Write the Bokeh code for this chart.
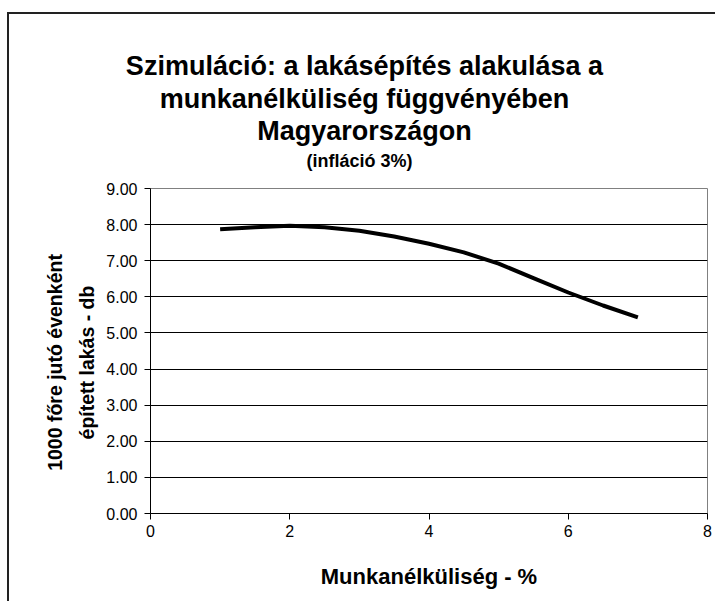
from bokeh.plotting import figure
from bokeh.models import FixedTicker, NumeralTickFormatter, Title, Range1d
from bokeh.embed import file_html
from bokeh.resources import INLINE

# data
unemployment = [1, 1.5, 2, 2.5, 3, 3.5, 4, 4.5, 5, 5.5, 6, 6.5, 7]
housing = [7.87, 7.93, 7.97, 7.93, 7.83, 7.67, 7.47, 7.23, 6.92, 6.52, 6.12, 5.76, 5.43]
x_ticks = [0, 2, 4, 6, 8]
y_ticks = [0, 1, 2, 3, 4, 5, 6, 7, 8, 9]
title_lines = ["Szimuláció: a lakásépítés alakulása a",
               "munkanélküliség függvényében",
               "Magyarországon"]
subtitle = "(infláció 3%)"
x_label = "Munkanélküliség - %"
y_label_lines = ["1000 főre jutó évenként", "épített lakás - db"]

FONT = "Liberation Sans"
ML, MR, MT, MB = 141, 8, 174, 88
FW, FH = 557, 325
FRAME_LEFT, FRAME_BOTTOM = 150, 513

# Arial/Liberation Sans Bold advance widths (per 1000 em) for centring text
W = {'S': 667, 'z': 500, 'i': 278, 'm': 889, 'u': 611, 'l': 278, 'á': 556, 'c': 556,
     'ó': 611, ':': 333, ' ': 278, 'a': 556, 'k': 556, 's': 556, 'é': 556, 'p': 611,
     'í': 278, 't': 333, 'e': 556, 'n': 611, 'ü': 611, 'g': 611, 'f': 333, 'v': 556,
     'y': 556, 'b': 611, 'M': 833, 'r': 389, 'o': 611, '(': 333, ')': 333, '3': 556,
     '%': 889, '1': 556, '0': 556, 'ő': 611, 'j': 278, '-': 333, 'd': 611}


def text_width(s, size):
    return sum(W.get(ch, 556) for ch in s) / 1000 * size


p = figure(frame_width=FW, frame_height=FH, min_border_left=ML, min_border_right=MR,
           min_border_top=MT, min_border_bottom=MB,
           x_range=Range1d(0, 8), y_range=Range1d(0, 9),
           output_backend="svg", toolbar_location=None)
p.styles = {"border-top": "2px solid #222222", "border-left": "2px solid #222222",
            "margin-top": "12px", "margin-left": "7px"}

p.line(unemployment, housing, line_width=4, line_color="black")

p.xgrid.visible = False
p.ygrid.grid_line_color = "black"
p.ygrid.grid_line_width = 1
p.outline_line_color = "#808080"
p.outline_line_width = 1

for ax in (p.xaxis[0], p.yaxis[0]):
    ax.axis_line_color = "black"
    ax.major_tick_line_color = "black"
    ax.minor_tick_line_color = None
    ax.major_tick_out = 6
    ax.major_tick_in = 0
    ax.major_label_text_font = FONT
    ax.major_label_text_font_size = "16px"
    ax.major_label_text_color = "black"
    ax.axis_label_text_font = FONT
    ax.axis_label_text_font_style = "bold"
    ax.axis_label_text_color = "black"

p.xaxis.axis_label_text_font_size = "22px"
p.xaxis.ticker = FixedTicker(ticks=x_ticks)
p.yaxis.ticker = FixedTicker(ticks=y_ticks)
p.yaxis.formatter = NumeralTickFormatter(format="0.00")
p.xaxis.major_label_standoff = 5
p.yaxis.major_label_standoff = 7
p.xaxis.axis_label = x_label
p.xaxis.axis_label_standoff = 24

# titles above: first added sits closest to the frame
TITLE_CX, SUB_CX = 364, 359
p.add_layout(Title(text=subtitle, text_font=FONT, text_font_size="18px",
                   text_font_style="bold", text_color="black", align="left",
                   offset=SUB_CX - text_width(subtitle, 18) / 2 - FRAME_LEFT,
                   standoff=36), "above")
for txt, so in zip(reversed(title_lines), [-31, 31, -29]):
    p.add_layout(Title(text=txt, text_font=FONT, text_font_size="27px",
                       text_font_style="bold", text_color="black", align="left",
                       offset=TITLE_CX - text_width(txt, 27) / 2 - FRAME_LEFT,
                       standoff=so), "above")

# y-axis title as two left titles (closest to the axis first)
Y_CY = 362
for txt, so in zip(reversed(y_label_lines), [12, 3]):
    p.add_layout(Title(text=txt, text_font=FONT, text_font_size="19.5px",
                       text_font_style="bold", text_color="black", align="left",
                       offset=FRAME_BOTTOM - (Y_CY + text_width(txt, 19.5) / 2),
                       standoff=so), "left")

open("out.html", "w").write(file_html(p, INLINE))
